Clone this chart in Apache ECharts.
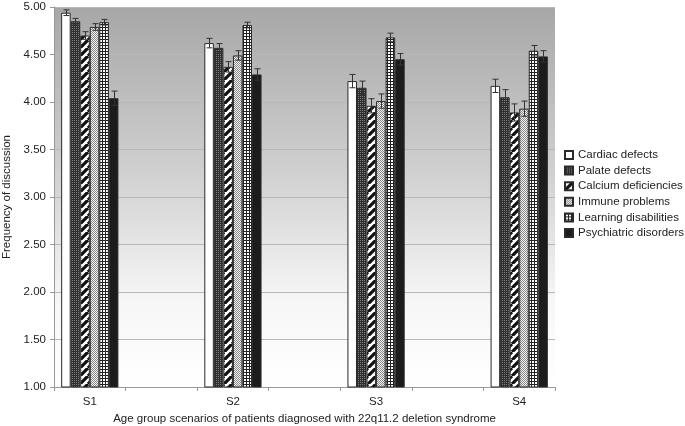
<!DOCTYPE html>
<html>
<head>
<meta charset="utf-8">
<script src="https://cdn.jsdelivr.net/npm/echarts@6/dist/echarts.min.js"></script>
<style>
  html, body { margin: 0; padding: 0; background: #fff; }
  #main { width: 685px; height: 426px; }
</style>
</head>
<body>
<div id="main"></div>
<script>
// scenarios on the x axis, blank slots in between (as in the original Excel chart)
const categories = ['S1', '', 'S2', '', 'S3', '', 'S4'];
const scenarioSlots = [0, 2, 4, 6];
const yTicks = [1, 5, 0.5]; // min, max, interval

const seriesNames = ['Cardiac defects', 'Palate defects', 'Calcium deficiencies',
  'Immune problems', 'Learning disabilities', 'Psychiatric disorders'];

const cardiac     = [4.94, 4.62, 4.22, 4.17];
const palate      = [4.85, 4.57, 4.15, 4.05];
const calcium     = [4.70, 4.37, 3.96, 3.89];
const immune      = [4.79, 4.49, 4.01, 3.93];
const learning    = [4.84, 4.81, 4.68, 4.54];
const psychiatric = [4.04, 4.29, 4.45, 4.48];

const cardiacErr     = [0.03, 0.05, 0.07, 0.07];
const palateErr      = [0.03, 0.045, 0.07, 0.08];
const calciumErr     = [0.04, 0.055, 0.075, 0.09];
const immuneErr      = [0.035, 0.05, 0.075, 0.08];
const learningErr    = [0.03, 0.03, 0.045, 0.055];
const psychiatricErr = [0.075, 0.06, 0.06, 0.06];

const values = [cardiac, palate, calcium, immune, learning, psychiatric];
const errors = [cardiacErr, palateErr, calciumErr, immuneErr, learningErr, psychiatricErr];

// fill patterns for the bars
function makePattern(size, draw) {
  const c = document.createElement('canvas');
  c.width = size; c.height = size;
  draw(c.getContext('2d'), size);
  return { image: c, repeat: 'repeat' };
}
const fills = [
  '#ffffff',
  makePattern(2, (g) => {
    g.fillStyle = '#2e2e2e'; g.fillRect(0, 0, 2, 2);
    g.fillStyle = '#808080'; g.fillRect(0, 0, 1, 1);
  }),
  makePattern(8, (g, s) => {
    g.fillStyle = '#fff'; g.fillRect(0, 0, s, s);
    g.strokeStyle = '#111'; g.lineWidth = 3.2;
    g.beginPath();
    for (let k = -1; k <= 1; k++) {
      g.moveTo(k * s, s); g.lineTo(k * s + s, 0);
    }
    g.stroke();
  }),
  makePattern(2, (g) => {
    g.fillStyle = '#f2f2f2'; g.fillRect(0, 0, 2, 2);
    g.fillStyle = '#8a8a8a'; g.fillRect(0, 0, 1, 1); g.fillRect(1, 1, 1, 1);
  }),
  makePattern(3, (g) => {
    g.fillStyle = '#fff'; g.fillRect(0, 0, 3, 3);
    g.fillStyle = '#222'; g.fillRect(0, 0, 3, 1); g.fillRect(0, 0, 1, 3);
  }),
  '#1c1c1c'
];

function slotData(arr) {
  const out = categories.map(() => '-');
  scenarioSlots.forEach((slot, i) => { out[slot] = arr[i]; });
  return out;
}

const barSeries = seriesNames.map((name, k) => ({
  name: name,
  type: 'bar',
  barGap: 0,
  barCategoryGap: '20%',
  data: slotData(values[k]),
  itemStyle: { color: fills[k], borderColor: '#2a2a2a', borderWidth: 1 },
  emphasis: { disabled: true }
}));

const errSeries = seriesNames.map((name, k) => ({
  name: name + ' error',
  type: 'custom',
  z: 5,
  data: scenarioSlots.map((slot, i) => [slot, values[k][i], errors[k][i]]),
  renderItem: function (params, api) {
    const idx = api.value(0), v = api.value(1), e = api.value(2);
    const band = api.size([1, 0])[0];
    const barW = band * 0.8 / 6;
    const center = api.coord([idx, v]);
    const x = Math.round(center[0] - band * 0.4 + (k + 0.5) * barW) + 0.5;
    const top = api.coord([idx, v + e])[1];
    const bot = api.coord([idx, v - e])[1];
    const st = { stroke: '#333', lineWidth: 1 };
    return {
      type: 'group',
      children: [
        { type: 'line', shape: { x1: x, y1: top, x2: x, y2: bot }, style: st },
        { type: 'line', shape: { x1: x - 3, y1: top, x2: x + 3, y2: top }, style: st },
        { type: 'line', shape: { x1: x - 3, y1: bot, x2: x + 3, y2: bot }, style: st }
      ]
    };
  }
}));

const font = '"Liberation Sans", Arial, sans-serif';
const myChart = echarts.init(document.getElementById('main'));
const option = {
  animation: false,
  textStyle: { fontFamily: font },
  grid: {
    left: 54, right: 130, top: 7, bottom: 39,
    containLabel: false,
    outerBoundsMode: 'none',
    show: true,
    borderWidth: 0,
    backgroundColor: {
      type: 'linear', x: 0, y: 0, x2: 0, y2: 1,
      colorStops: [
        { offset: 0, color: '#a7a7a7' },
        { offset: 0.45, color: '#d2d2d2' },
        { offset: 0.78, color: '#f7f7f7' },
        { offset: 1, color: '#ffffff' }
      ]
    }
  },
  legend: {
    orient: 'vertical',
    left: 564,
    top: 149,
    padding: 0,
    itemWidth: 8,
    itemHeight: 8,
    itemGap: 3.6,
    icon: 'rect',
    data: seriesNames,
    textStyle: { fontSize: 11.5, color: '#222', padding: [0, 0, 0, 0] }
  },
  xAxis: {
    type: 'category',
    data: categories,
    name: 'Age group scenarios of patients diagnosed with 22q11.2 deletion syndrome',
    nameLocation: 'middle',
    nameGap: 26,
    nameTextStyle: { fontSize: 11.5, color: '#222' },
    axisLine: { lineStyle: { color: '#999' } },
    axisTick: { show: true, interval: 0, length: 4, lineStyle: { color: '#999' } },
    axisLabel: { interval: 0, fontSize: 11.5, color: '#222', margin: 9 }
  },
  yAxis: {
    type: 'value',
    min: yTicks[0],
    max: yTicks[1],
    interval: yTicks[2],
    name: 'Frequency of discussion',
    nameLocation: 'middle',
    nameGap: 33,
    nameTextStyle: { fontSize: 11.5, color: '#222' },
    axisLine: { show: true, lineStyle: { color: '#999' } },
    axisTick: { show: true, length: 4, lineStyle: { color: '#999' } },
    axisLabel: { fontSize: 11.5, color: '#222', margin: 8, formatter: (v) => v.toFixed(2) },
    splitLine: { lineStyle: { color: '#b8b8b8' } }
  },
  series: barSeries.concat(errSeries)
};
myChart.setOption(option);
</script>
</body>
</html>
